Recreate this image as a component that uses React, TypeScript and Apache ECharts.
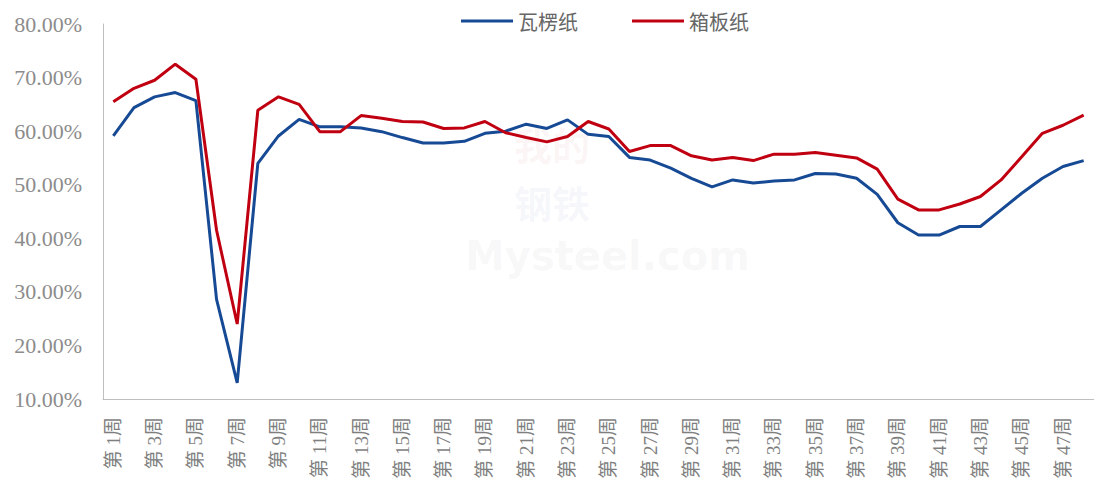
import React, { useEffect, useRef } from "react";
import * as echarts from "echarts";

const weeks: string[] = Array.from({ length: 48 }, (_, i) => `第 ${i + 1}周`);

const corrugated: number[] = [
  59.1, 64.4, 66.4, 67.2, 65.7, 28.6, 13.0, 54.0, 59.1, 62.2,
  60.8, 60.8, 60.6, 59.9, 58.8, 57.8, 57.8, 58.1, 59.6, 60.0,
  61.3, 60.5, 62.1, 59.4, 59.0, 55.1, 54.6, 53.1, 51.2, 49.6,
  50.9, 50.3, 50.7, 50.9, 52.1, 52.0, 51.2, 48.2, 42.9, 40.6,
  40.6, 42.2, 42.2, 45.3, 48.4, 51.2, 53.4, 54.5,
];

const containerboard: number[] = [
  65.5, 68.0, 69.5, 72.5, 69.7, 41.5, 24.0, 63.9, 66.4, 65.0,
  59.9, 59.9, 62.9, 62.4, 61.8, 61.7, 60.5, 60.6, 61.8, 59.7,
  58.8, 58.0, 59.0, 61.8, 60.4, 56.2, 57.3, 57.3, 55.4, 54.6,
  55.1, 54.5, 55.7, 55.7, 56.0, 55.5, 55.0, 52.9, 47.3, 45.3,
  45.3, 46.4, 47.8, 50.9, 55.2, 59.6, 61.1, 63.0,
];

const seriesNames = ["瓦楞纸", "箱板纸"];

export default function App() {
  const ref = useRef<HTMLDivElement>(null);
  useEffect(() => {
    if (!ref.current) return;
    const chart = echarts.init(ref.current, undefined, { renderer: "svg" });
    const serif = "'Liberation Serif', 'Noto Sans CJK SC', serif";
    chart.setOption({
      animation: false,
      backgroundColor: "#ffffff",
      graphic: [
        {
          type: "text",
          left: 514,
          top: 124,
          silent: true,
          z: -1,
          style: {
            text: "我的",
            fill: "rgba(220,110,110,0.07)",
            font: "bold 38px 'Noto Sans CJK SC'",
            lineHeight: 38,
          },
        },
        {
          type: "text",
          left: 514,
          top: 182,
          silent: true,
          z: -1,
          style: {
            text: "钢铁",
            fill: "rgba(110,130,200,0.07)",
            font: "bold 38px 'Noto Sans CJK SC'",
            lineHeight: 38,
          },
        },
        {
          type: "text",
          left: 465,
          top: 236,
          silent: true,
          z: -1,
          style: {
            text: "Mysteel.com",
            fill: "rgba(150,150,150,0.07)",
            font: "bold 40px 'DejaVu Sans'",
            lineHeight: 40,
          },
        },
      ],
      legend: {
        top: 6,
        left: 456,
        icon: "rect",
        itemWidth: 52,
        itemHeight: 3,
        itemGap: 54,
        textStyle: { color: "#666666", fontSize: 20, fontFamily: "'Noto Sans CJK SC'" },
        data: seriesNames,
      },
      grid: { left: 103, right: -4, top: 24, bottom: 86, containLabel: false },
      xAxis: {
        type: "category",
        data: weeks,
        boundaryGap: true,
        axisLine: { lineStyle: { color: "#bfbfbf", width: 1 } },
        axisTick: { show: false },
        axisLabel: {
          interval: 1,
          rotate: 90,
          margin: 18,
          color: "#7f7f7f",
          fontSize: 19,
          fontFamily: serif,
        },
      },
      yAxis: {
        type: "value",
        min: 10,
        max: 80,
        interval: 10,
        axisLine: { show: true, lineStyle: { color: "#bfbfbf", width: 1 } },
        axisTick: { show: false },
        splitLine: { show: false },
        axisLabel: {
          margin: 21,
          color: "#8c8c8c",
          fontSize: 22,
          fontFamily: serif,
          formatter: (v: number) => v.toFixed(2) + "%",
        },
      },
      series: [
        {
          name: seriesNames[0],
          type: "line",
          data: corrugated,
          symbol: "none",
          lineStyle: { color: "#174A94", width: 3 },
          itemStyle: { color: "#174A94" },
        },
        {
          name: seriesNames[1],
          type: "line",
          data: containerboard,
          symbol: "none",
          lineStyle: { color: "#C00011", width: 3 },
          itemStyle: { color: "#C00011" },
        },
      ],
    });
    return () => chart.dispose();
  }, []);
  return (
    <div
      ref={ref}
      style={{ position: "fixed", left: 0, top: 0, width: 1094, height: 485 }}
    />
  );
}
